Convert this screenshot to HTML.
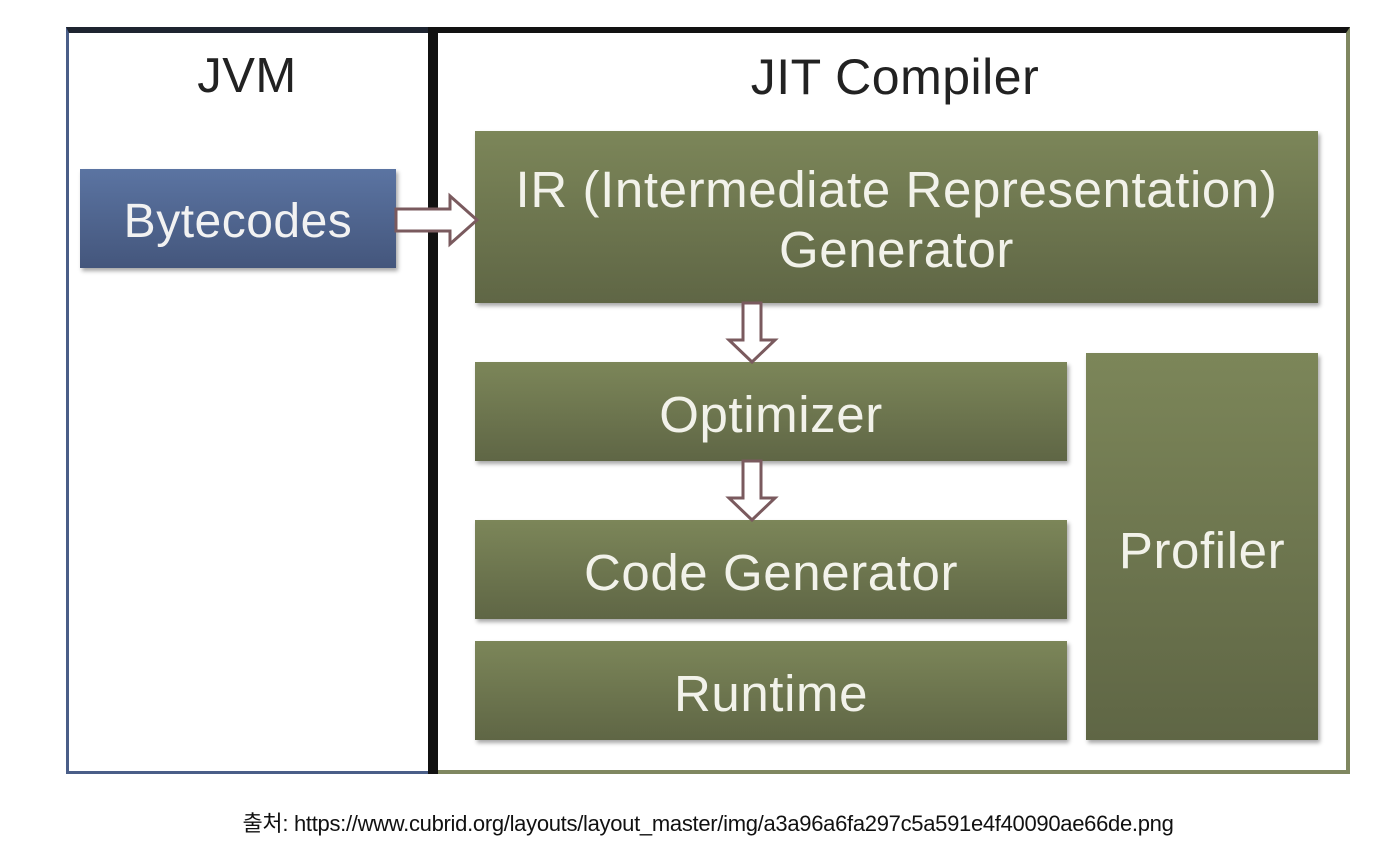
<!DOCTYPE html>
<html><head><meta charset="utf-8"><style>
body{margin:0;width:1388px;height:860px;background:#fff;position:relative;overflow:hidden;font-family:"Liberation Sans",sans-serif}
.a{position:absolute;box-sizing:border-box}
.g{background:linear-gradient(#7c8659,#5f6645);color:#f2f2ea;display:flex;align-items:center;justify-content:center;text-align:center;font-size:51px;letter-spacing:0.6px;box-shadow:2px 3px 4px rgba(0,0,0,.35);line-height:60px;white-space:nowrap;padding-top:6px}
</style></head><body>
<div class="a" style="left:66px;top:27px;width:370px;height:747px;border:3px solid #4a5e88;border-top:6px solid #1e2430;background:#fff"></div>
<div class="a" style="left:428px;top:27px;width:12px;height:747px;background:#111"></div>
<div class="a" style="left:438px;top:27px;width:912px;height:747px;border:4px solid #7f8760;border-left:none;border-top:6px solid #111;background:#fff"></div>
<div class="a" style="left:66px;top:48px;width:362px;text-align:center;font-size:49px;letter-spacing:0.5px;color:#222">JVM</div>
<div class="a" style="left:440px;top:48px;width:910px;text-align:center;font-size:50px;letter-spacing:0.5px;color:#222">JIT Compiler</div>
<div class="a" style="left:80px;top:169px;width:316px;height:99px;background:linear-gradient(#5b74a2,#44567c);color:#f2f2f2;font-size:48px;letter-spacing:0.5px;padding-top:6px;display:flex;align-items:center;justify-content:center;box-shadow:2px 3px 4px rgba(0,0,0,.35)">Bytecodes</div>
<div class="a g" style="left:475px;top:131px;width:843px;height:172px">IR (Intermediate Representation)<br>Generator</div>
<div class="a g" style="left:475px;top:362px;width:592px;height:99px">Optimizer</div>
<div class="a g" style="left:475px;top:520px;width:592px;height:99px">Code Generator</div>
<div class="a g" style="left:475px;top:641px;width:592px;height:99px">Runtime</div>
<div class="a g" style="left:1086px;top:353px;width:232px;height:387px;align-items:flex-start;padding-top:168px">Profiler</div>
<svg class="a" style="left:0;top:0" width="1388" height="860">
<g fill="#fff" stroke="#7a5a5e" stroke-width="3">
<polygon points="396,209 450,209 450,196 477,220 450,244 450,231 396,231"/>
<polygon points="743,303 761,303 761,340 775,340 752,362 729,340 743,340"/>
<polygon points="743,461 761,461 761,498 775,498 752,520 729,498 743,498"/>
</g></svg>
<div class="a" style="left:0;top:806px;width:1416px;text-align:center;font-size:22px;color:#111;letter-spacing:-0.3px;font-family:'Liberation Sans Narrow','Liberation Sans','Noto Sans CJK KR',sans-serif">출처: https://www.cubrid.org/layouts/layout_master/img/a3a96a6fa297c5a591e4f40090ae66de.png</div>
</body></html>
